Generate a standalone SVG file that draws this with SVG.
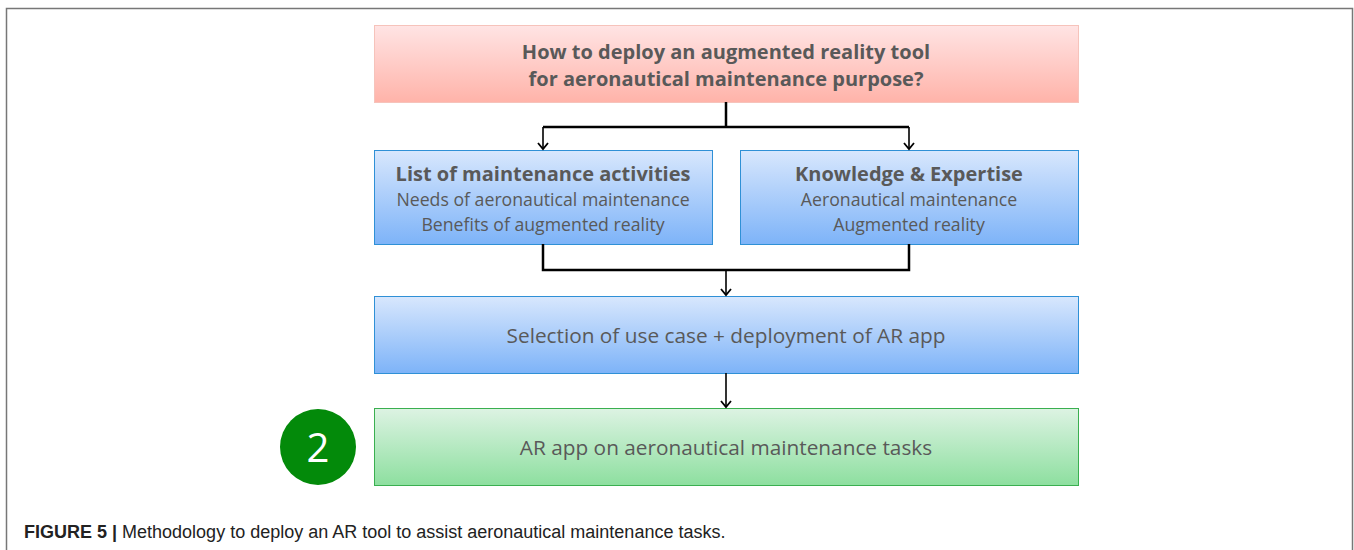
<svg xmlns="http://www.w3.org/2000/svg" width="1354" height="550" viewBox="0 0 1354 550">
<style>
.t{font-family:"Open Sans","Liberation Sans",sans-serif;fill:#595959;text-anchor:middle}
.b{font-weight:bold;font-size:20px}
.r{font-size:17.7px}
.m{font-size:20.8px}
.ln{fill:none;stroke:#000;stroke-width:2.5}
.ar{fill:none;stroke:#000;stroke-width:1.6}
.cap{font-family:"Liberation Sans",Arial,sans-serif;font-size:18px;fill:#222}
</style>
<defs>
<linearGradient id="gr" x1="0" y1="0" x2="0" y2="1"><stop offset="0" stop-color="#ffe4e4"/><stop offset="1" stop-color="#ffb3a9"/></linearGradient>
<linearGradient id="gb" x1="0" y1="0" x2="0" y2="1"><stop offset="0" stop-color="#d8e7fd"/><stop offset="1" stop-color="#7db3f8"/></linearGradient>
<linearGradient id="gg" x1="0" y1="0" x2="0" y2="1"><stop offset="0" stop-color="#ddf3e3"/><stop offset="1" stop-color="#8ddf9f"/></linearGradient>
<marker id="ah" markerWidth="12" markerHeight="12" refX="10" refY="6" orient="auto" markerUnits="userSpaceOnUse" viewBox="0 0 12 12">
<path d="M4,1 L10,6 L4,11" fill="none" stroke="#000" stroke-width="1.8"/>
</marker>
</defs>
<rect width="1354" height="550" fill="#fff"/>
<path d="M6.5,560 V8.5 H1352.5 V560" fill="none" stroke="#777" stroke-width="1.5"/>
<g id="q">
<rect x="374.5" y="25.5" width="704" height="77" fill="url(#gr)" stroke="#f6c3bb"/>
<text class="t b" x="726" y="59">How to deploy an augmented reality tool</text>
<text class="t b" x="726" y="86">for aeronautical maintenance purpose?</text>
</g>
<g id="list">
<rect x="374.5" y="150.5" width="338" height="94" fill="url(#gb)" stroke="#2f90d6"/>
<text class="t b" x="543" y="181">List of maintenance activities</text>
<text class="t r" x="543" y="206">Needs of aeronautical maintenance</text>
<text class="t r" x="543" y="231">Benefits of augmented reality</text>
</g>
<g id="know">
<rect x="740.5" y="150.5" width="338" height="94" fill="url(#gb)" stroke="#2f90d6"/>
<text class="t b" x="909" y="181">Knowledge &amp; Expertise</text>
<text class="t r" x="909" y="206">Aeronautical maintenance</text>
<text class="t r" x="909" y="231">Augmented reality</text>
</g>
<g id="sel">
<rect x="374.5" y="296.5" width="704" height="77" fill="url(#gb)" stroke="#2f90d6"/>
<text class="t m" x="726" y="343">Selection of use case + deployment of AR app</text>
</g>
<g id="app">
<rect x="374.5" y="408.5" width="704" height="77" fill="url(#gg)" stroke="#3aaf50"/>
<text class="t m" x="726" y="455">AR app on aeronautical maintenance tasks</text>
</g>
<g id="badge">
<circle cx="318" cy="447" r="38" fill="#038a0a"/>
<text x="318" y="462" font-family="'Open Sans','Liberation Sans',sans-serif" font-size="40" fill="#fff" text-anchor="middle">2</text>
</g>
<g id="connectors">
<path class="ln" d="M726,102 V127 M543,127 H909"/>
<path class="ar" d="M543,127 V149" marker-end="url(#ah)"/>
<path class="ar" d="M909,127 V149" marker-end="url(#ah)"/>
<path class="ln" d="M543,244 V270 H909 V244"/>
<path class="ar" d="M726,270 V295" marker-end="url(#ah)"/>
<path class="ar" d="M726,373 V407" marker-end="url(#ah)"/>
</g>
<text class="cap" x="24" y="538"><tspan font-weight="bold">FIGURE 5 |</tspan> Methodology to deploy an AR tool to assist aeronautical maintenance tasks.</text>
</svg>
